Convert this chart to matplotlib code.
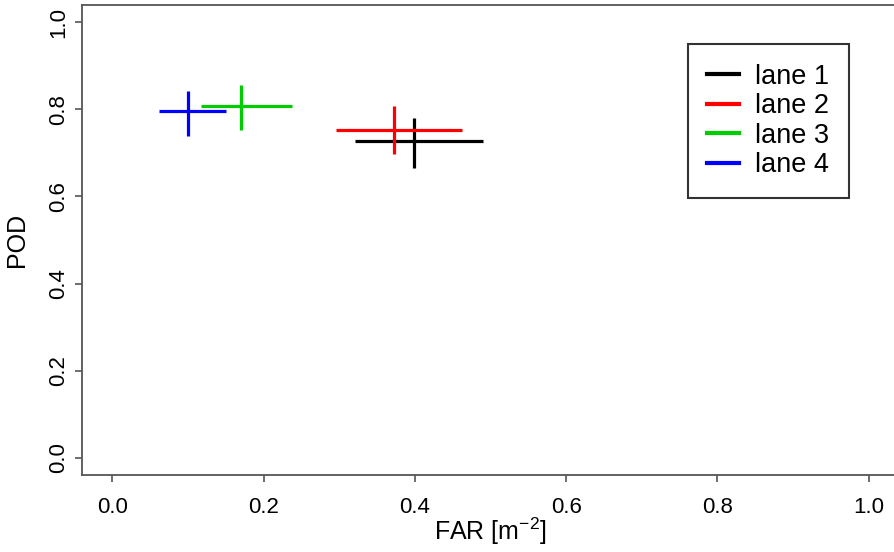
import matplotlib
matplotlib.use("Agg")
import matplotlib.pyplot as plt
from matplotlib.lines import Line2D

plt.rcParams['font.family'] = ['Liberation Sans', 'DejaVu Sans']

lanes = ["lane 1", "lane 2", "lane 3", "lane 4"]
colors = ["#000000", "#ff0000", "#00cd00", "#0000ff"]
far = [0.399, 0.372, 0.170, 0.100]
far_lo = [0.321, 0.296, 0.117, 0.062]
far_hi = [0.490, 0.462, 0.237, 0.150]
pod = [0.727, 0.753, 0.807, 0.796]
pod_lo = [0.665, 0.697, 0.753, 0.740]
pod_hi = [0.780, 0.807, 0.856, 0.843]
ticks = [0.0, 0.2, 0.4, 0.6, 0.8, 1.0]
tick_labels = ["0.0", "0.2", "0.4", "0.6", "0.8", "1.0"]

fig = plt.figure(figsize=(8.95, 5.52), dpi=100)
ax = fig.add_axes([82/895, 77/552, 817/895, 470/552])

for i in range(len(lanes)):
    ax.plot([far_lo[i], far_hi[i]], [pod[i], pod[i]], color=colors[i], lw=2.3, solid_capstyle='butt')
    ax.plot([far[i], far[i]], [pod_lo[i], pod_hi[i]], color=colors[i], lw=2.3, solid_capstyle='butt')

ax.set_xlim(-0.04, 1.04)
ax.set_ylim(-0.04, 1.04)
ax.set_xticks(ticks)
ax.set_xticklabels(tick_labels)
ax.set_yticks(ticks)
ax.set_yticklabels(tick_labels, rotation=90, va='center')

for s in ax.spines.values():
    s.set_color('#555555')
    s.set_linewidth(1.3)
ax.spines['right'].set_visible(False)

ax.tick_params(axis='both', direction='out', length=5, width=1.2, color='#555555', labelsize=16)
ax.tick_params(axis='x', pad=11)
ax.tick_params(axis='y', pad=4)

ax.set_xlabel("FAR [m$^{\\mathregular{-2}}$]", fontsize=18)
ax.set_ylabel("POD", fontsize=18)
ax.xaxis.set_label_coords(0.5, -(531 - 475) / 470)
ax.yaxis.set_label_coords(-(82 - 17.5) / 817, 0.5)
ax.xaxis.label.set_va('center')
ax.yaxis.label.set_va('center')

handles = [Line2D([0], [0], color=c, lw=3) for c in colors]
leg = ax.legend(handles, lanes, loc='upper left', bbox_to_anchor=((688 - 82) / 817, (475 - 44) / 470),
                fontsize=19.5, frameon=True, fancybox=False, handlelength=1.15, handletextpad=0.62,
                labelspacing=0.13, borderpad=0.72, borderaxespad=0)
leg.get_frame().set_edgecolor('black')
leg.get_frame().set_linewidth(1.5)

fig.savefig("out.png", dpi=100)
